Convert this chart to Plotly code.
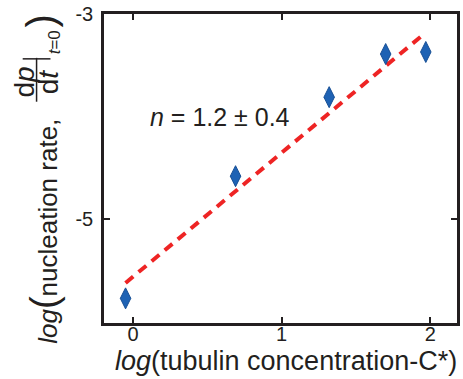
import plotly.graph_objects as go

# ---- data ----
conc_log = [-0.05, 0.69, 1.32, 1.70, 1.97]
rate_log = [-5.77, -4.58, -3.81, -3.39, -3.37]
fit_x = [-0.05, 1.97]
fit_y = [-5.62, -3.18]
x_ticks = [0, 1, 2]
x_tick_text = ["0", "1", "2"]
y_ticks = [-5, -3]
y_tick_text = ["-5", "-3"]
fit_label = "<i>n</i> = 1.2 ± 0.4"

W, H = 463, 379
L, R, T, B = 104, 460, 13, 323
PW, PH = R - L, B - T
FONT = "Liberation Sans, Arial, Helvetica, sans-serif"
INK = "#231f20"


def px(xp):
    return (xp - L) / PW


def py(yp):
    return (B - yp) / PH


fig = go.Figure()
fig.add_trace(go.Scatter(x=fit_x, y=fit_y, mode="lines",
                         line=dict(color="#ee2424", width=4, dash="10px,7px"),
                         hoverinfo="skip"))
fig.add_trace(go.Scatter(x=conc_log, y=rate_log, mode="markers",
                         marker=dict(symbol="diamond-tall", size=15, color="#1e62b4",
                                     line=dict(color="#174f95", width=1))))

annotations = [
    dict(x=0.585, y=-4.0, xref="x", yref="y", text=fit_label, showarrow=False,
         font=dict(size=25, color=INK, family=FONT), xanchor="center", yanchor="middle"),
    # x title
    dict(x=px(288), y=py(361), xref="paper", yref="paper",
         text="<i>log</i>(tubulin concentration-C*)", showarrow=False,
         font=dict(size=27, color=INK, family=FONT), xanchor="center", yanchor="middle"),
    # y title pieces (rotated)
    dict(x=px(44), y=py(228), xref="paper", yref="paper",
         text="<i>log</i><span style='font-size:38px'>(</span>nucleation rate, ",
         textangle=-90, showarrow=False,
         font=dict(size=26, color=INK, family=FONT), xanchor="center", yanchor="middle"),
    dict(x=px(24), y=py(81), xref="paper", yref="paper", text="d<i>p</i>",
         textangle=-90, showarrow=False,
         font=dict(size=28, color=INK, family=FONT), xanchor="center", yanchor="middle"),
    dict(x=px(48), y=py(81), xref="paper", yref="paper", text="d<i>t</i>",
         textangle=-90, showarrow=False,
         font=dict(size=28, color=INK, family=FONT), xanchor="center", yanchor="middle"),
    dict(x=px(54), y=py(41), xref="paper", yref="paper", text="<i>t</i>=0",
         textangle=-90, showarrow=False,
         font=dict(size=17, color=INK, family=FONT), xanchor="center", yanchor="middle"),
    dict(x=px(40), y=py(20), xref="paper", yref="paper", text=")",
         textangle=-90, showarrow=False,
         font=dict(size=40, color=INK, family=FONT), xanchor="center", yanchor="middle"),
]

shapes = [
    dict(type="line", xref="paper", yref="paper", x0=px(36), x1=px(36), y0=py(57), y1=py(101),
         line=dict(color=INK, width=1.5)),
    dict(type="line", xref="paper", yref="paper", x0=px(22), x1=px(50), y0=py(58), y1=py(58),
         line=dict(color=INK, width=1.5)),
]

fig.update_layout(
    width=W, height=H,
    margin=dict(l=L, r=W - R, t=T, b=H - B),
    paper_bgcolor="white", plot_bgcolor="white",
    showlegend=False,
    font=dict(family=FONT, color=INK, size=20),
    annotations=annotations,
    shapes=shapes,
    xaxis=dict(range=[-0.195, 2.18], tickvals=x_ticks, ticktext=x_tick_text,
               ticks="inside", ticklen=6, tickwidth=2, tickcolor=INK,
               showline=True, linecolor=INK, linewidth=2.5, mirror="ticks",
               showgrid=False, zeroline=False, tickfont=dict(size=20),
               ticklabelstandoff=-9),
    yaxis=dict(range=[-6.01, -3.0], tickvals=y_ticks, ticktext=y_tick_text,
               ticks="inside", ticklen=6, tickwidth=2, tickcolor=INK,
               showline=True, linecolor=INK, linewidth=2.5, mirror="ticks",
               showgrid=False, zeroline=False, tickfont=dict(size=20),
               ticklabelstandoff=4),
)

fig.write_html("out.html", config={"displayModeBar": False},
               post_script="document.body.style.margin='0';document.body.style.overflow='hidden';")
